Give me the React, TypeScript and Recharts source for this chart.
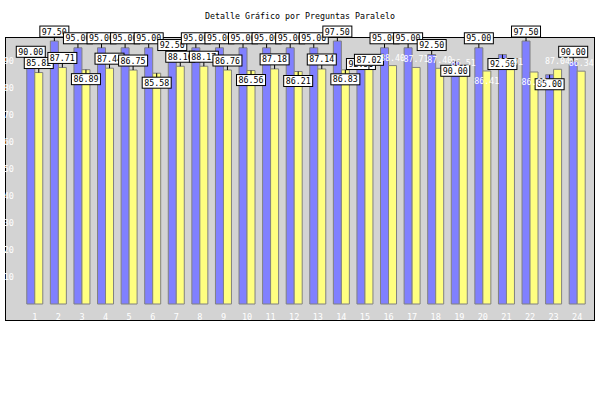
import { BarChart, Bar, XAxis, YAxis, LabelList } from "recharts"

const preguntas = ["1", "2", "3", "4", "5", "6", "7", "8", "9", "10", "11", "12", "13", "14", "15", "16", "17", "18", "19", "20", "21", "22", "23", "24"]
const paralelo = [90, 97.5, 95, 95, 95, 95, 92.5, 95, 95, 95, 95, 95, 95, 97.5, 92.5, 95, 95, 92.5, 90, 95, 92.5, 97.5, 85, 90]
const general = [85.82, 87.71, 86.89, 87.44, 86.75, 85.58, 88.16, 88.17, 86.76, 86.56, 87.18, 86.21, 87.14, 86.83, 87.02, 88.4, 87.71, 87.4, 86.51, 86.41, 86.91, 86.02, 87.04, 86.34]
const yTicks = [10, 20, 30, 40, 50, 60, 70, 80, 90]

// which labels sit under the top of their bar instead of above it
const blueBelow = [14, 18, 20, 22]
const yellowBelow = [2, 5, 9, 11, 13, 19, 21]

const data = preguntas.map((p, i) => ({ p, paralelo: paralelo[i], general: general[i] }))

const mono = "DejaVu Sans Mono"

function boxLabel(below: number[], plainFrom?: number) {
  return (props: any) => {
    const { x, y, width, value, index } = props
    const cx = x + width / 2
    const txt = Number(value).toFixed(2)
    const isBelow = below.includes(index)
    if (plainFrom !== undefined && index >= plainFrom) {
      return (
        <text x={cx} y={isBelow ? y + 13 : y - 5} textAnchor="middle" fontFamily={mono} fontSize={8.3} fill="#fff">
          {txt}
        </text>
      )
    }
    const by = isBelow ? y + 4 : y - 15
    return (
      <g>
        <line x1={cx} x2={cx} y1={y} y2={isBelow ? by : by + 11} stroke="#000" />
        <rect x={cx - 14.5} y={by} width={29} height={11} fill="#fff" stroke="#000" />
        <text x={cx} y={by + 8.5} textAnchor="middle" fontFamily={mono} fontSize={8.3} fill="#000">
          {txt}
        </text>
      </g>
    )
  }
}

export default function App() {
  return (
    <div style={{ position: "absolute", left: 0, top: 0, width: 600, height: 400, background: "#fff" }}>
      <div
        style={{
          position: "absolute",
          left: 0,
          top: 11,
          width: 600,
          textAlign: "center",
          fontFamily: mono,
          fontSize: 8.3,
          color: "#000",
        }}
      >
        Detalle Gráfico por Preguntas Paralelo
      </div>
      <div
        style={{
          position: "absolute",
          left: 5,
          top: 37,
          width: 588,
          height: 282,
          background: "#d3d3d3",
          border: "1px solid #000",
        }}
      />
      <div style={{ position: "absolute", left: 0, top: 0 }}>
        <BarChart
          width={600}
          height={400}
          data={data}
          margin={{ top: 37, right: 11, left: 0, bottom: 80 }}
          barCategoryGap="16%"
          barGap={0}
        >
          <XAxis
            dataKey="p"
            height={16}
            axisLine={false}
            tickLine={false}
            tickMargin={4}
            interval={0}
            tick={{ fill: "#fff", fontSize: 8.5, fontFamily: mono }}
          />
          <YAxis
            width={23}
            domain={[0, 99]}
            ticks={yTicks}
            axisLine={false}
            tickLine={false}
            tickMargin={3}
            tick={{ fill: "#fff", fontSize: 8.5, fontFamily: mono }}
          />
          <Bar dataKey="paralelo" fill="#8080ff" stroke="#808080" isAnimationActive={false}>
            <LabelList dataKey="paralelo" content={boxLabel(blueBelow)} />
          </Bar>
          <Bar dataKey="general" fill="#ffff80" stroke="#808080" isAnimationActive={false}>
            <LabelList dataKey="general" content={boxLabel(yellowBelow, 15)} />
          </Bar>
        </BarChart>
      </div>
    </div>
  )
}
